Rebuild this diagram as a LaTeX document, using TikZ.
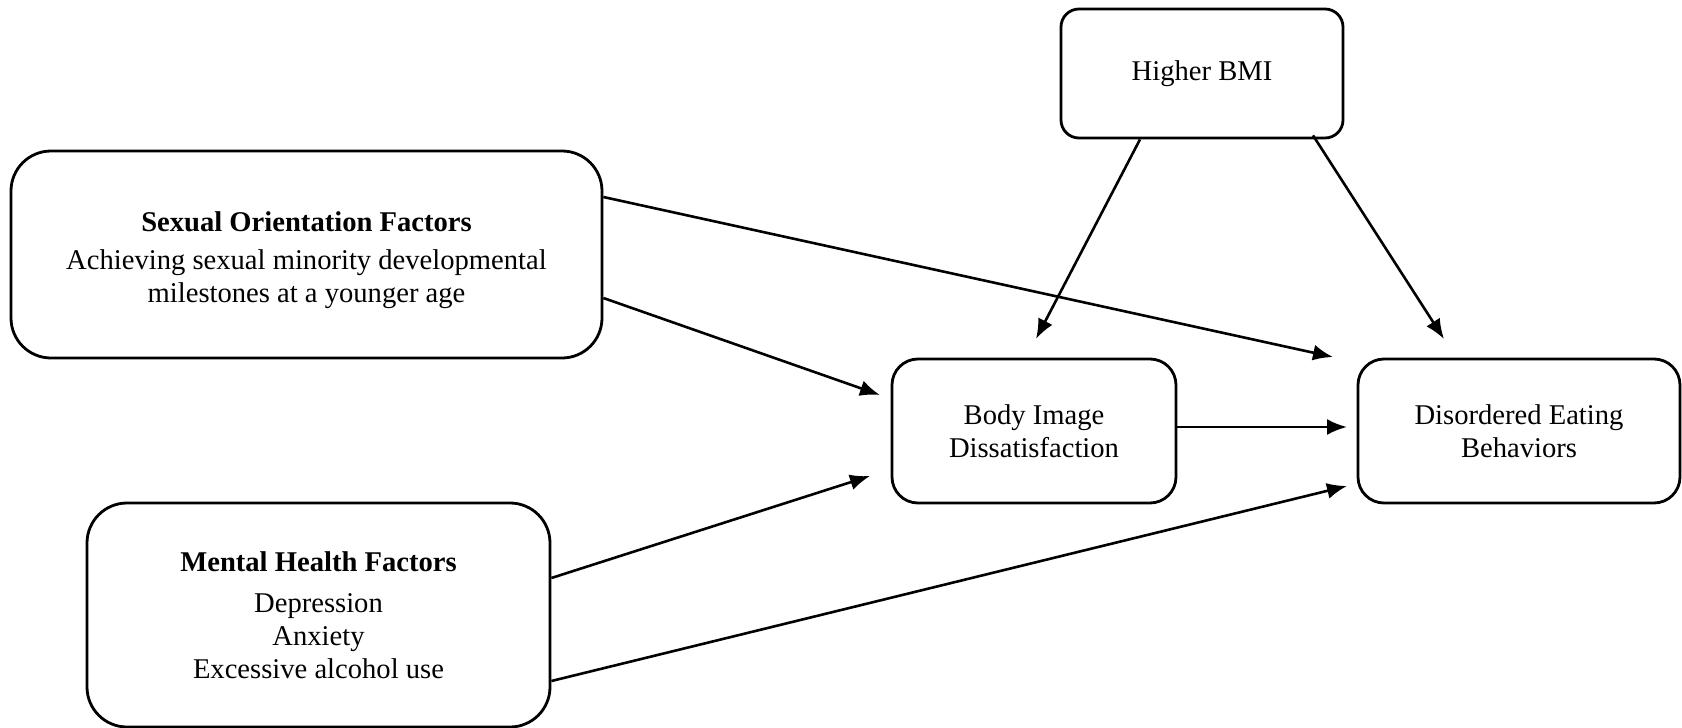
\documentclass[tikz,border=0pt]{standalone}
\usepackage{fontspec}
\setmainfont{Liberation Serif}
\usetikzlibrary{arrows.meta}
\begin{document}
\begin{tikzpicture}[x=0.5pt,y=-0.5pt,
  box/.style={draw,line width=1.4pt,rounded corners=#1,align=center,inner sep=0pt,
    font=\fontsize{14.3}{16.5}\selectfont},
  arr/.style={-{Latex[length=10pt,width=8pt]},line width=1.3pt}]
\useasboundingbox (0,0) rectangle (1682,728);
\node[box=20pt,minimum width=295.5pt,minimum height=103.5pt] (so) at (306.5,254.5)
  {\rule{0pt}{15.5pt}\textbf{Sexual Orientation Factors}\\[2.5pt] Achieving sexual minority developmental\\ milestones at a younger age};
\node[box=20pt,minimum width=231.5pt,minimum height=112pt] (mh) at (318.5,615)
  {\textbf{Mental Health Factors}\\[4pt] Depression\\ Anxiety\\ Excessive alcohol use};
\node[box=13pt,minimum width=142pt,minimum height=72pt] (bid) at (1034,431)
  {Body Image\\ Dissatisfaction};
\node[box=13pt,minimum width=161pt,minimum height=72pt] (deb) at (1519,431)
  {Disordered Eating\\ Behaviors};
\node[box=9pt,minimum width=141pt,minimum height=64.5pt] (bmi) at (1202,73.5)
  {Higher BMI};
\coordinate (e1) at (1333,357);
\coordinate (e2) at (880,395);
\coordinate (e3) at (870,476);
\coordinate (e4) at (1347,486);
\coordinate (e5) at (1347,427);
\coordinate (e6) at (1036,339);
\coordinate (e7) at (1444,339);
\draw[arr] ([yshift=28.75pt]so.east) -- (e1);
\draw[arr] ([yshift=-21.75pt]so.east) -- (e2);
\draw[arr] ([yshift=18.5pt]mh.east) -- (e3);
\draw[arr] ([yshift=-33pt]mh.east) -- (e4);
\draw[arr] ([yshift=2pt]bid.east) -- (e5);
\draw[arr] ([xshift=-31pt]bmi.south) -- (e6);
\draw[arr] ([xshift=55.5pt,yshift=2pt]bmi.south) -- (e7);
\end{tikzpicture}
\end{document}
